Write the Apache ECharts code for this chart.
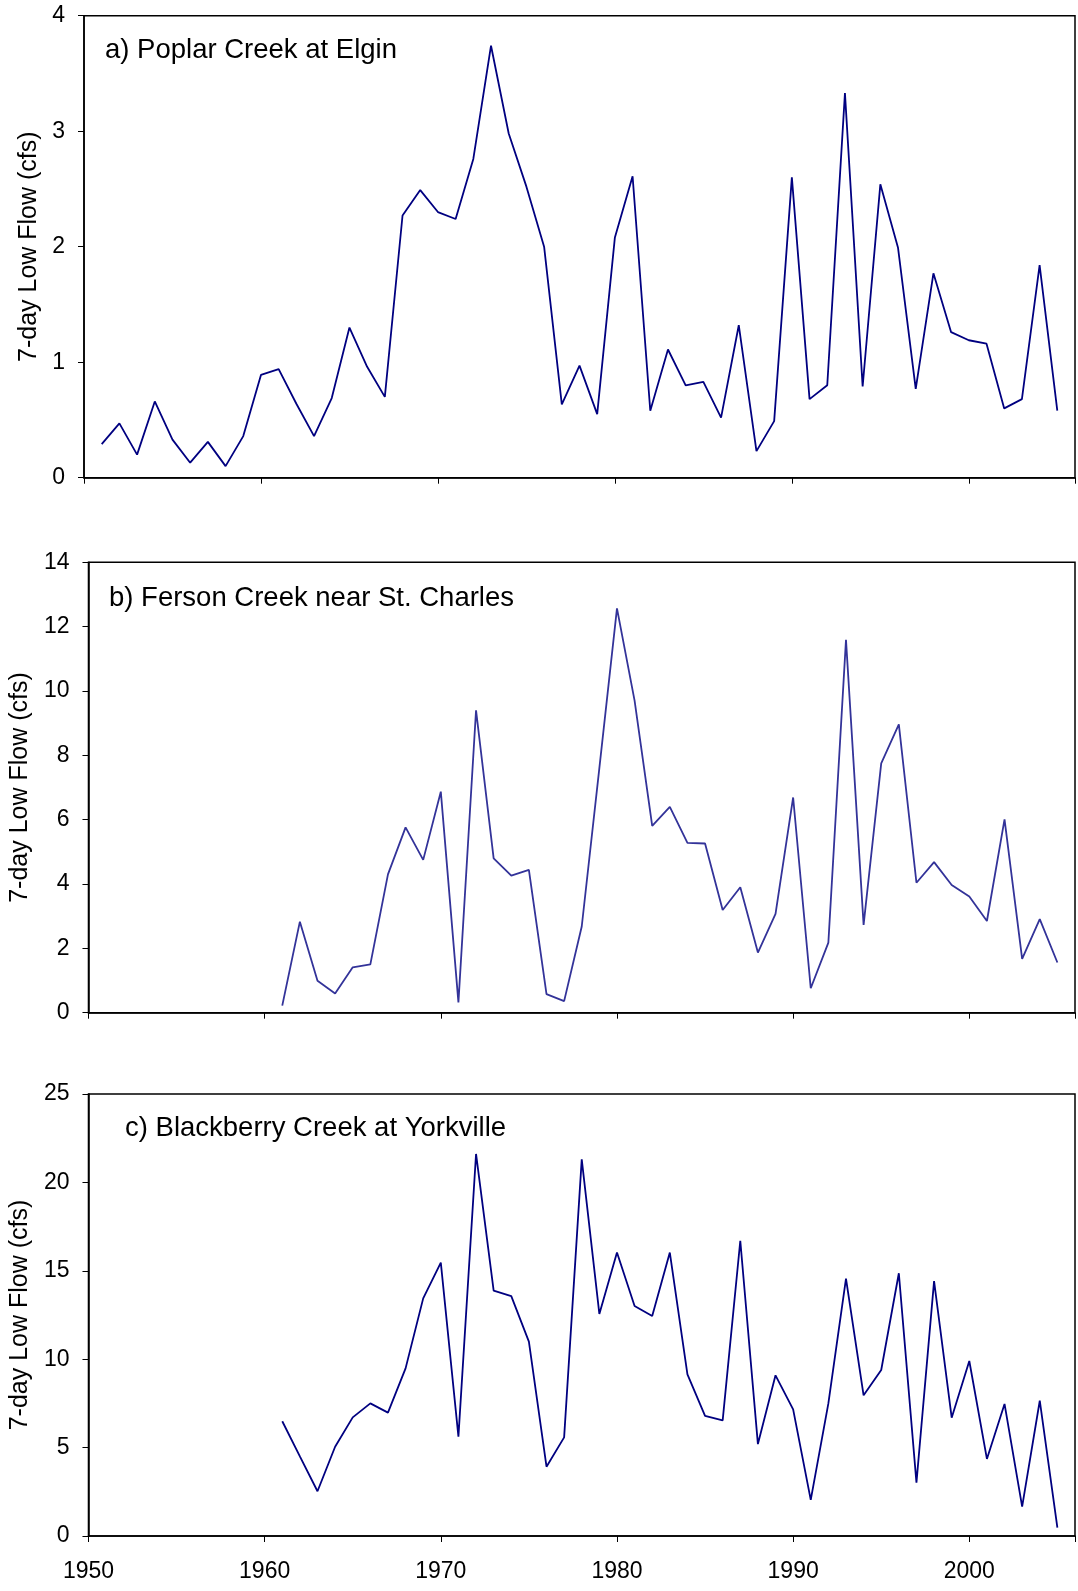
<!DOCTYPE html>
<html>
<head>
<meta charset="utf-8">
<script src="https://cdn.jsdelivr.net/npm/echarts@6/dist/echarts.min.js"></script>
<style>
html,body{margin:0;padding:0;background:#fff}
#chart{width:1078px;height:1591px}
</style>
</head>
<body>
<div id="chart"></div>
<script>
// 7-day low flow (cfs), one value per year
var poplarYears = range(1951, 2005);
var poplar = [0.29,0.47,0.20,0.66,0.33,0.13,0.31,0.10,0.36,0.89,
              0.94,0.64,0.36,0.69,1.30,0.96,0.70,2.27,2.49,2.30,
              2.24,2.76,3.74,2.98,2.52,2.00,0.635,0.97,0.55,2.08,
              2.61,0.58,1.11,0.80,0.83,0.52,1.32,0.23,0.49,2.60,
              0.68,0.80,3.33,0.79,2.54,1.99,0.77,1.77,1.26,1.19,
              1.16,0.60,0.68,1.84,0.58];

var fersonYears = range(1961, 2005);
var ferson = [0.22,2.83,0.99,0.60,1.41,1.50,4.30,5.76,4.75,6.87,
              0.32,9.40,4.80,4.26,4.44,0.58,0.36,2.68,7.6,12.57,
              9.70,5.81,6.40,5.28,5.26,3.19,3.90,1.87,3.07,6.69,
              0.76,2.18,11.59,2.73,7.75,8.96,4.04,4.68,3.97,3.61,
              2.85,6.01,1.67,2.91,1.56];

var blackberryYears = range(1961, 2005);
var blackberry = [6.49,4.5,2.53,5.05,6.71,7.50,6.98,9.48,13.44,15.46,
                  5.62,21.61,13.88,13.57,10.99,3.92,5.58,21.30,12.56,16.03,
                  13.01,12.44,16.03,9.14,6.79,6.54,16.70,5.20,9.09,7.16,
                  2.04,7.50,14.56,7.96,9.39,14.86,3.02,14.42,6.69,9.90,
                  4.36,7.47,1.66,7.65,0.47];

var titles = ['a) Poplar Creek at Elgin', 'b) Ferson Creek near St. Charles', 'c) Blackberry Creek at Yorkville'];
var yMax = [4, 14, 25];
var yStep = [1, 2, 5];
var xTicks = [1950, 1960, 1970, 1980, 1990, 2000];

function range(a, b) {
  var r = [];
  for (var y = a; y <= b; y++) r.push(y);
  return r;
}
function pairs(xs, ys) {
  return xs.map(function (x, i) { return [x, ys[i]]; });
}

var font = 'Liberation Sans, Arial, sans-serif';
var myChart = echarts.init(document.getElementById('chart'));

var grids = [
  {left: 84, top: 15.7, width: 991, height: 462},
  {left: 86.5, top: 562.3, width: 988.5, height: 450.4},
  {left: 86, top: 1094, width: 994, height: 442}
];
var nameGaps = [37, 48, 55];
var titlePos = [[105, 36], [109, 584], [125, 1114]];
var colors = ['#000080', '#333399', '#000080'];
var seriesData = [pairs(poplarYears, poplar), pairs(fersonYears, ferson), pairs(blackberryYears, blackberry)];

var option = {
  backgroundColor: '#fff',
  animation: false,
  title: [],
  grid: [],
  xAxis: [],
  yAxis: [],
  series: []
};

for (var i = 0; i < 3; i++) {
  option.title.push({
    text: titles[i], left: titlePos[i][0], top: titlePos[i][1], padding: 0,
    textStyle: {fontFamily: font, fontSize: 27.5, fontWeight: 'normal', color: '#000'}
  });
  option.grid.push({
    left: grids[i].left, top: grids[i].top, width: grids[i].width, height: grids[i].height,
    show: true, borderColor: '#000', borderWidth: 1.5, backgroundColor: 'transparent'
  });
  option.xAxis.push({
    type: 'value', gridIndex: i, min: 1950, max: 2006, interval: 10,
    axisLine: {lineStyle: {color: '#000', width: 1.5}},
    axisTick: {show: true, length: 6, lineStyle: {color: '#000'}},
    axisLabel: {
      show: i === 2, margin: 24, fontFamily: font, fontSize: 23, color: '#000',
      formatter: function (v) { return xTicks.indexOf(v) >= 0 ? String(v) : ''; }
    },
    splitLine: {show: false}
  });
  option.yAxis.push({
    type: 'value', gridIndex: i, min: 0, max: yMax[i], interval: yStep[i],
    name: '7-day Low Flow (cfs)', nameLocation: 'middle', nameGap: nameGaps[i],
    nameTextStyle: {fontFamily: font, fontSize: 25, color: '#000'},
    axisLine: {show: true, lineStyle: {color: '#000', width: 1.5}},
    axisTick: {show: true, length: 6, lineStyle: {color: '#000'}},
    axisLabel: {margin: 19, fontFamily: font, fontSize: 23, color: '#000'},
    splitLine: {show: false}
  });
  option.series.push({
    type: 'line', xAxisIndex: i, yAxisIndex: i, data: seriesData[i],
    showSymbol: false, symbol: 'none',
    lineStyle: {color: colors[i], width: 1.8}
  });
}

myChart.setOption(option);
</script>
</body>
</html>
